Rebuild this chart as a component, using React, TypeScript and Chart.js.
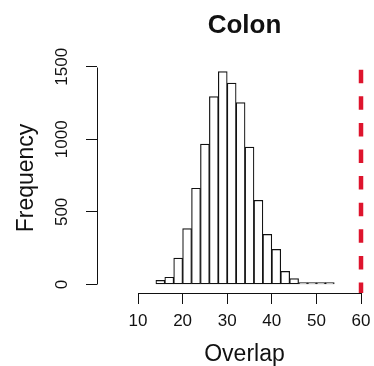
import React, { useEffect, useRef } from "react";
import { Chart, registerables } from "chart.js";

Chart.register(...registerables);

// ---- data ----
const binStarts = [14, 16, 18, 20, 22, 24, 26, 28, 30, 32, 34, 36, 38, 40, 42, 44, 46, 48, 50, 52];
const binWidth = 2;
const frequencies = [28, 50, 182, 385, 663, 967, 1294, 1467, 1387, 1253, 947, 580, 345, 242, 90, 40, 12, 8, 3, 1];
const xTicks = [10, 20, 30, 40, 50, 60];
const yTicks = [0, 500, 1000, 1500];
const observedOverlap = [60];
const xRange = [0.8, 66.95];
const yRange = [-58.7, 1525.7];
const titleText = "Colon";
const xLabel = "Overlap";
const yLabel = "Frequency";

const FONT = "'Liberation Sans', Arial, Helvetica, sans-serif";
const INK = "#111111";

const rAxesPlugin = {
  id: "rAxes",
  afterDraw(chart: any) {
    const { ctx, chartArea, scales } = chart;
    const x = scales.x;
    const y = scales.y;
    ctx.save();
    ctx.strokeStyle = INK;
    ctx.lineWidth = 1;
    ctx.beginPath();
    const left = Math.round(chartArea.left) + 0.5;
    ctx.moveTo(left, Math.round(y.getPixelForValue(yTicks[0])) + 0.5);
    ctx.lineTo(left, Math.round(y.getPixelForValue(yTicks[yTicks.length - 1])) + 0.5);
    const bottom = Math.round(chartArea.bottom) + 0.5;
    ctx.moveTo(Math.round(x.getPixelForValue(xTicks[0])) + 0.5, bottom);
    ctx.lineTo(Math.round(x.getPixelForValue(xTicks[xTicks.length - 1])) + 0.5, bottom);
    ctx.stroke();
    ctx.restore();
  },
};

export default function App() {
  const canvasRef = useRef<HTMLCanvasElement | null>(null);

  useEffect(() => {
    if (!canvasRef.current) return;
    const chart = new Chart(canvasRef.current, {
      type: "bar",
      data: {
        datasets: [
          {
            type: "bar",
            label: "Frequency",
            data: binStarts.map((s, i) => ({ x: s + binWidth / 2, y: frequencies[i] })),
            backgroundColor: "#ffffff",
            borderColor: INK,
            borderWidth: 1.2,
            borderSkipped: false,
            barPercentage: 1,
            categoryPercentage: 1,
            minBarLength: 2,
            order: 2,
          } as any,
          {
            type: "line",
            label: "observed",
            data: [
              { x: observedOverlap[0], y: yRange[0] },
              { x: observedOverlap[0], y: yRange[1] },
            ],
            borderColor: "rgb(222, 20, 45)",
            borderWidth: 4.5,
            borderDash: [13.5, 13.1],
            borderDashOffset: 3,
            borderCapStyle: "butt",
            pointRadius: 0,
            fill: false,
            order: 1,
          } as any,
        ],
      },
      options: {
        responsive: false,
        animation: false,
        devicePixelRatio: 1,
        layout: { padding: { left: 0, right: 5, top: 0, bottom: 0 } },
        plugins: {
          legend: { display: false },
          tooltip: { enabled: false },
          title: {
            display: true,
            text: titleText,
            fullSize: false,
            color: INK,
            font: { family: FONT, size: 26, weight: "bold", lineHeight: 1 },
            padding: { top: 13, bottom: 24 },
          },
        },
        scales: {
          x: {
            type: "linear",
            min: xRange[0],
            max: xRange[1],
            offset: false,
            afterBuildTicks: (s: any) => {
              s.ticks = xTicks.map((v) => ({ value: v }));
            },
            afterFit: (s: any) => {
              s.height = 73;
            },
            grid: {
              display: true,
              drawOnChartArea: false,
              drawTicks: true,
              tickLength: 11,
              color: INK,
              offset: false,
            },
            border: { display: false },
            ticks: {
              color: INK,
              font: { family: FONT, size: 17 },
              padding: 7,
              maxRotation: 0,
              autoSkip: false,
              callback: (v: any) => String(v),
            },
            title: {
              display: true,
              text: xLabel,
              color: INK,
              font: { family: FONT, size: 23, lineHeight: 1 },
              padding: 0,
            },
          },
          y: {
            type: "linear",
            min: yRange[0],
            max: yRange[1],
            afterBuildTicks: (s: any) => {
              s.ticks = yTicks.map((v) => ({ value: v }));
            },
            afterFit: (s: any) => {
              s.width = 97;
            },
            grid: {
              display: true,
              drawOnChartArea: false,
              drawTicks: true,
              tickLength: 11,
              color: INK,
            },
            border: { display: false },
            ticks: {
              color: INK,
              font: { family: FONT, size: 17 },
              padding: 5,
              minRotation: 90,
              maxRotation: 90,
              crossAlign: "center",
              autoSkip: false,
              callback: (v: any) => String(v),
            },
            title: {
              display: true,
              text: yLabel,
              color: INK,
              font: { family: FONT, size: 23, lineHeight: 1 },
              padding: { top: 15, bottom: 0 },
            },
          },
        },
      } as any,
      plugins: [rAxesPlugin],
    });
    return () => chart.destroy();
  }, []);

  return (
    <div
      style={{
        position: "absolute",
        left: 0,
        top: 0,
        width: 374,
        height: 366,
        overflow: "hidden",
        background: "#ffffff",
      }}
    >
      <canvas
        ref={canvasRef}
        width={397}
        height={366}
        style={{ width: 397, height: 366, display: "block" }}
      />
    </div>
  );
}
